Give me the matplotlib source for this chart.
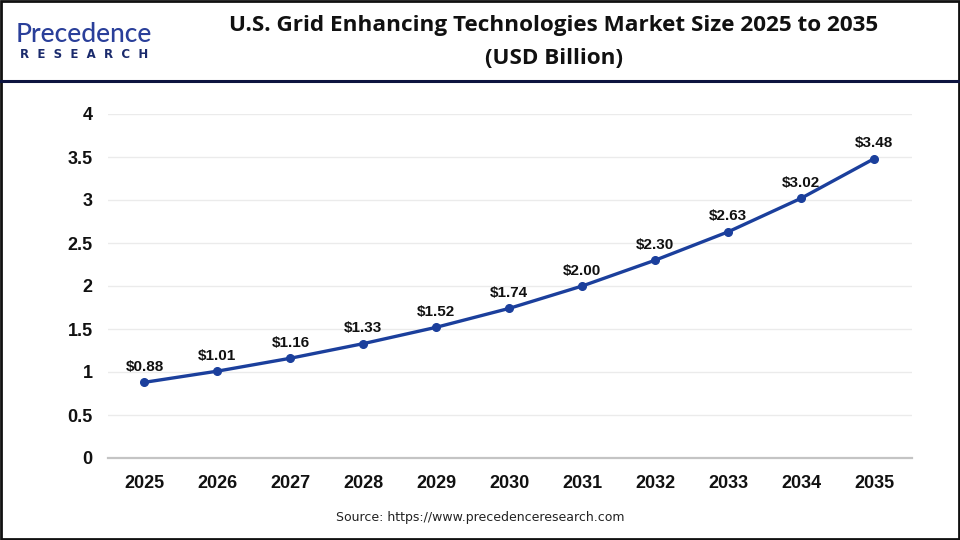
import matplotlib
matplotlib.use("Agg")
import matplotlib.pyplot as plt
from matplotlib.lines import Line2D
from matplotlib.patches import Rectangle

years = [2025, 2026, 2027, 2028, 2029, 2030, 2031, 2032, 2033, 2034, 2035]
values = [0.88, 1.01, 1.16, 1.33, 1.52, 1.74, 2.00, 2.30, 2.63, 3.02, 3.48]
yticks = [0, 0.5, 1, 1.5, 2, 2.5, 3, 3.5, 4]
ytick_labels = ["0", "0.5", "1", "1.5", "2", "2.5", "3", "3.5", "4"]
title_line1 = "U.S. Grid Enhancing Technologies Market Size 2025 to 2035"
title_line2 = "(USD Billion)"
source = "Source: https://www.precedenceresearch.com"

line_color = "#1b3f9c"

fig = plt.figure(figsize=(9.6, 5.4), dpi=100)
fig.patch.set_facecolor("white")

ax = fig.add_axes([108/960, 1-458/540, (912-108)/960, (458-114)/540])
ax.plot(years, values, color=line_color, lw=2.4, marker="o", ms=5.5, zorder=3)
for x, v in zip(years, values):
    ax.annotate(f"${v:.2f}", (x, v), xytext=(0, 6), textcoords="offset points",
                ha="center", va="bottom", fontsize=11, fontweight="bold",
                family="Liberation Sans", color="#111111")
ax.set_xlim(2024.5, 2035.52)
ax.set_ylim(0, 4)
ax.set_yticks(yticks)
ax.set_yticklabels(ytick_labels)
ax.set_xticks(years)
ax.set_xticklabels([str(y) for y in years])
for lab in ax.get_xticklabels() + ax.get_yticklabels():
    lab.set_fontfamily("Liberation Sans")
    lab.set_fontweight("bold")
    lab.set_fontsize(13)
    lab.set_color("#111111")
ax.tick_params(axis="both", length=0)
ax.tick_params(axis="y", pad=11)
ax.tick_params(axis="x", pad=12)
ax.grid(axis="y", color="#ebebeb", lw=1)
ax.set_axisbelow(True)
for s in ["top", "right", "left"]:
    ax.spines[s].set_visible(False)
ax.spines["bottom"].set_color("#c4c4c4")
ax.spines["bottom"].set_linewidth(1.6)

# Title
fig.text(554/960, 1-25/540, title_line1, ha="center", va="center", fontsize=16.2,
         fontweight="bold", family="Open Sans", color="#111111")
fig.text(554/960, 1-58/540, title_line2, ha="center", va="center", fontsize=16.2,
         fontweight="bold", family="Open Sans", color="#111111")

# Logo
fig.text(16/960, 1-35/540, "Precedence", ha="left", va="center", fontsize=19,
         family="Lato", color="#2a3f9a", fontweight="medium")
fig.text(20/960, 1-55/540, "R  E  S  E  A  R  C  H", ha="left", va="center", fontsize=8.5,
         family="DejaVu Sans", fontweight="bold", color="#1a2a6c")

# Source
fig.text(480/960, 1-518/540, source, ha="center", va="center", fontsize=9,
         family="DejaVu Sans", color="#222222")

# Header separator and border
fig.add_artist(Line2D([0, 1], [1-81/540, 1-81/540], color="#0d1440", lw=2.2,
                      transform=fig.transFigure))
fig.add_artist(Rectangle((0.001, 0.002), 0.998, 0.996, fill=False, ec="#111111",
                         lw=2, transform=fig.transFigure))

fig.savefig("out.png", dpi=100)
